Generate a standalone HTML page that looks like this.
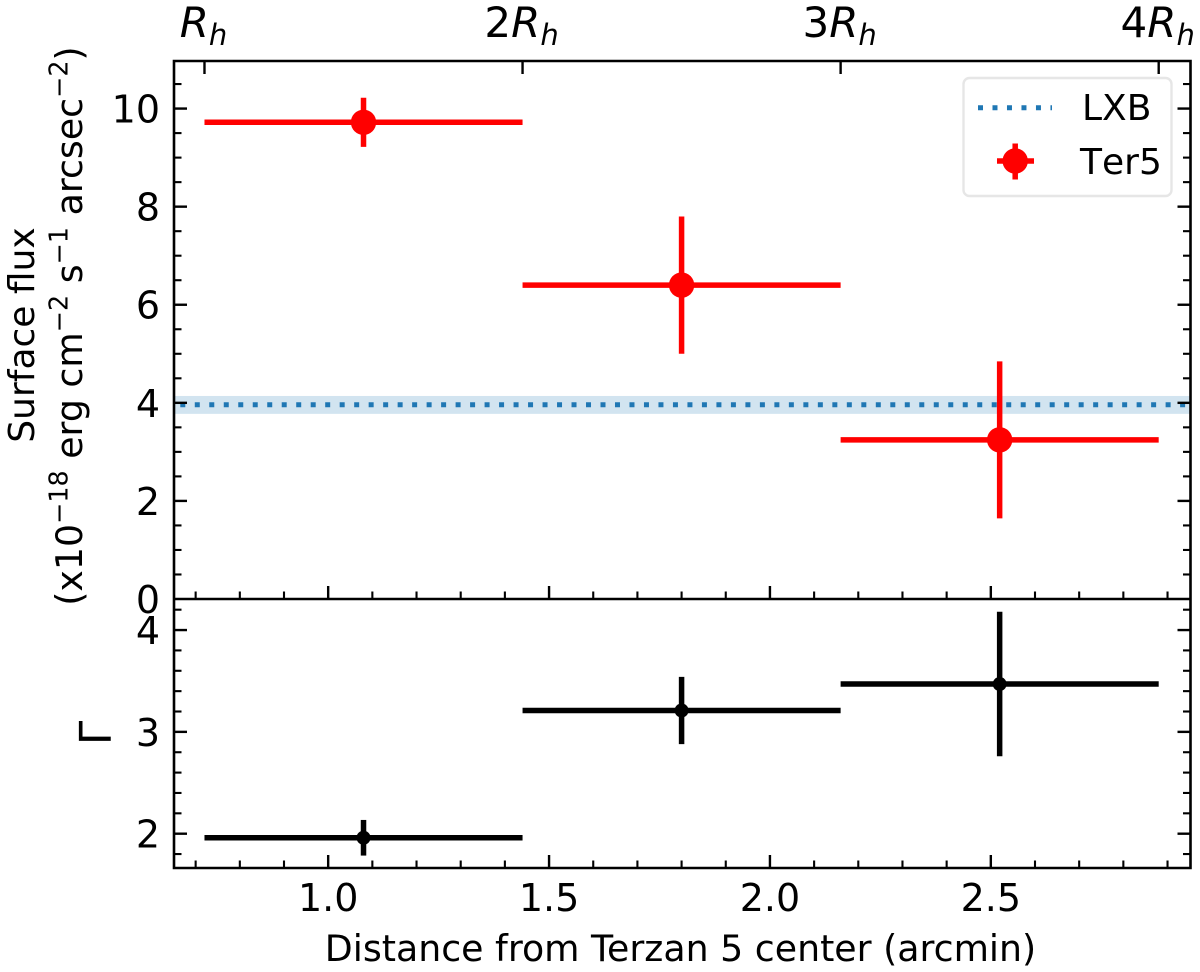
<!DOCTYPE html>
<html lang="en">
<head>
<meta charset="utf-8">
<title>Surface flux and photon index vs distance from Terzan 5 center</title>
<style>
  html, body { margin: 0; padding: 0; background: #fff; }
  #chart { display: block; width: 1200px; height: 972px; }
  text { font-family: "DejaVu Sans", "Liberation Sans", sans-serif; fill: #000; }
</style>
</head>
<body>
<svg id="chart" xmlns="http://www.w3.org/2000/svg" width="1200" height="972" viewBox="0 0 1200 972">
  <g id="series-layer"></g>
  <g id="axes-layer"></g>
  <g id="labels-layer">
    <text x="680.5" y="961" text-anchor="middle" font-size="36.3">Distance from Terzan 5 center (arcmin)</text>
    <text transform="translate(34 335) rotate(-90)" text-anchor="middle" font-size="36">Surface flux</text>
    <text transform="translate(82 326) rotate(-90)" text-anchor="middle" font-size="36.3">(x10<tspan dy="-14.5" font-size="25.4">−18</tspan><tspan dy="14.5"> erg cm</tspan><tspan dy="-14.5" font-size="25.4">−2</tspan><tspan dy="14.5"> s</tspan><tspan dy="-14.5" font-size="25.4">−1</tspan><tspan dy="14.5"> arcsec</tspan><tspan dy="-14.5" font-size="25.4">−2</tspan><tspan dy="14.5">)</tspan></text>
    <text transform="translate(111 733) rotate(-90)" text-anchor="middle" font-size="44">Γ</text>
  </g>
  <g id="legend">
    <rect x="963.5" y="78" width="208" height="118" rx="6" ry="6" fill="#fff" stroke="#e6e6e6" stroke-width="2.4"></rect>
    <line x1="978" y1="107.7" x2="1052" y2="107.7" stroke="#1f77b4" stroke-width="5" stroke-dasharray="5 9.49"></line>
    <text x="1082" y="120" font-size="36" style="font-kerning:none">LXB</text>
    <g>
      <line x1="997" y1="161" x2="1034" y2="161" stroke="#f00" stroke-width="5.5"></line>
      <line x1="1015.2" y1="143.5" x2="1015.2" y2="179.5" stroke="#f00" stroke-width="5.5"></line>
      <circle cx="1015.2" cy="161" r="12.7" fill="#f00"></circle>
    </g>
    <text x="1080" y="174" font-size="36" style="font-kerning:none">Ter5</text>
  </g>
</svg>
<script>
// Data
const binCenters = [1.08, 1.80, 2.52];
const binHalfWidths = [0.36, 0.36, 0.36];
const fluxValues = [9.72, 6.40, 3.245];
const fluxErrors = [0.50, 1.40, 1.60];
const gammaValues = [1.96, 3.21, 3.47];
const gammaErrors = [0.175, 0.33, 0.71];
const lxbLevel = [3.96];
const lxbBand = [3.775, 4.14];
const xMajorTicks = [1.0, 1.5, 2.0, 2.5];
const xMajorLabels = ['1.0', '1.5', '2.0', '2.5'];
const xMinorTicks = [0.7, 0.8, 0.9, 1.1, 1.2, 1.3, 1.4, 1.6, 1.7, 1.8, 1.9, 2.1, 2.2, 2.3, 2.4, 2.6, 2.7, 2.8, 2.9];
const fluxMajorTicks = [0, 2, 4, 6, 8, 10];
const fluxMinorTicks = [0.5, 1, 1.5, 2.5, 3, 3.5, 4.5, 5, 5.5, 6.5, 7, 7.5, 8.5, 9, 9.5, 10.5];
const gammaMajorTicks = [2, 3, 4];
const gammaMinorTicks = [1.8, 2.2, 2.4, 2.6, 2.8, 3.2, 3.4, 3.6, 3.8, 4.2];
const halfLightTicks = [0.72, 1.44, 2.16, 2.88];
const halfLightPrefixes = ['', '2', '3', '4'];

// Axis functions
const plotLeft = 174, plotRight = 1190.5, plotTop = 61, plotMid = 599, plotBottom = 868;
const xMin = 0.651, xMax = 2.952;
const fluxMin = 0, fluxMax = 10.97;
const gammaMin = 1.663, gammaMax = 4.305;
function xScale(v) { return plotLeft + (v - xMin) / (xMax - xMin) * (plotRight - plotLeft); }
function fluxScale(v) { return plotMid - (v - fluxMin) / (fluxMax - fluxMin) * (plotMid - plotTop); }
function gammaScale(v) { return plotBottom - (v - gammaMin) / (gammaMax - gammaMin) * (plotBottom - plotMid); }

const NS = 'http://www.w3.org/2000/svg';
const seriesLayer = document.getElementById('series-layer');
const axesLayer = document.getElementById('axes-layer');

function makeLine(parent, x1, y1, x2, y2, color, width) {
  const el = document.createElementNS(NS, 'line');
  el.setAttribute('x1', x1);
  el.setAttribute('y1', y1);
  el.setAttribute('x2', x2);
  el.setAttribute('y2', y2);
  el.setAttribute('stroke', color);
  el.setAttribute('stroke-width', width);
  parent.appendChild(el);
  return el;
}

// LXB band and level
const band = document.createElementNS(NS, 'rect');
band.setAttribute('x', plotLeft);
band.setAttribute('width', plotRight - plotLeft);
band.setAttribute('y', fluxScale(lxbBand[1]));
band.setAttribute('height', fluxScale(lxbBand[0]) - fluxScale(lxbBand[1]));
band.setAttribute('fill', '#1f77b4');
band.setAttribute('fill-opacity', '0.2');


seriesLayer.appendChild(band);

const lxbLine = makeLine(seriesLayer, plotLeft, fluxScale(lxbLevel[0]), plotRight, fluxScale(lxbLevel[0]), '#1f77b4', 5);
lxbLine.setAttribute('stroke-dasharray', '5 9.49');
lxbLine.setAttribute('stroke-dashoffset', '8.2');



// Error bar series
function drawSeries(values, errors, yScale, color, radius, seriesName) {
  values.forEach(function (v, i) {
    const g = document.createElementNS(NS, 'g');
    
    
    seriesLayer.appendChild(g);
    const cx = xScale(binCenters[i]);
    const cy = yScale(v);
    makeLine(g, xScale(binCenters[i] - binHalfWidths[i]), cy, xScale(binCenters[i] + binHalfWidths[i]), cy, color, 5.5);
    makeLine(g, cx, yScale(v + errors[i]), cx, yScale(v - errors[i]), color, 5.5);
    const dot = document.createElementNS(NS, 'circle');
    dot.setAttribute('cx', cx);
    dot.setAttribute('cy', cy);
    dot.setAttribute('r', radius);
    dot.setAttribute('fill', color);
    g.appendChild(dot);
  });
}
drawSeries(fluxValues, fluxErrors, fluxScale, '#ff0000', 12.7, 'ter5-flux');
drawSeries(gammaValues, gammaErrors, gammaScale, '#000000', 7, 'gamma');

// Ticks
const majorLen = 13, minorLen = 7.5, majorW = 2.4, minorW = 2.1;
function tickGroup(name) {
  const g = document.createElementNS(NS, 'g');
  
  
  axesLayer.appendChild(g);
  return g;
}
const xTicksGroup = tickGroup('x-axis-ticks');
xMajorTicks.forEach(function (v) {
  makeLine(xTicksGroup, xScale(v), plotMid, xScale(v), plotMid - majorLen, '#000', majorW);
  makeLine(xTicksGroup, xScale(v), plotBottom, xScale(v), plotBottom - majorLen, '#000', majorW);
});
xMinorTicks.forEach(function (v) {
  makeLine(xTicksGroup, xScale(v), plotMid, xScale(v), plotMid - minorLen, '#000', minorW);
  makeLine(xTicksGroup, xScale(v), plotBottom, xScale(v), plotBottom - minorLen, '#000', minorW);
});
const topTicksGroup = tickGroup('top-axis-ticks');
halfLightTicks.forEach(function (v) {
  makeLine(topTicksGroup, xScale(v), plotTop, xScale(v), plotTop + majorLen, '#000', majorW);
});
function drawYTicks(name, majors, minors, yScale) {
  const g = tickGroup(name);
  majors.forEach(function (v) {
    makeLine(g, plotLeft, yScale(v), plotLeft + majorLen, yScale(v), '#000', majorW);
    makeLine(g, plotRight, yScale(v), plotRight - majorLen, yScale(v), '#000', majorW);
  });
  minors.forEach(function (v) {
    makeLine(g, plotLeft, yScale(v), plotLeft + minorLen, yScale(v), '#000', minorW);
    makeLine(g, plotRight, yScale(v), plotRight - minorLen, yScale(v), '#000', minorW);
  });
}
drawYTicks('flux-y-ticks', fluxMajorTicks.filter(function (v) { return v > 0; }), fluxMinorTicks, fluxScale);
drawYTicks('gamma-y-ticks', gammaMajorTicks, gammaMinorTicks, gammaScale);

// Spines
const spines = document.createElementNS(NS, 'path');
spines.setAttribute('d', 'M' + plotLeft + ' ' + plotTop + 'H' + plotRight + 'V' + plotBottom + 'H' + plotLeft + 'ZM' + plotLeft + ' ' + plotMid + 'H' + plotRight);
spines.setAttribute('fill', 'none');
spines.setAttribute('stroke', '#000');
spines.setAttribute('stroke-width', '2.6');


axesLayer.appendChild(spines);

// Tick labels
function makeText(x, y, str, anchor, size) {
  const t = document.createElementNS(NS, 'text');
  t.setAttribute('x', x);
  t.setAttribute('y', y);
  t.setAttribute('font-size', size);
  t.setAttribute('text-anchor', anchor);
  t.textContent = str;
  axesLayer.appendChild(t);
  return t;
}
xMajorTicks.forEach(function (v, i) {
  const t = makeText(xScale(v), 911, xMajorLabels[i], 'middle', 38);
  
  
});
fluxMajorTicks.forEach(function (v) {
  const t = makeText(160, fluxScale(v) + 14, String(v), 'end', 38);
  
  
});
gammaMajorTicks.forEach(function (v) {
  const t = makeText(160, gammaScale(v) + 14, String(v), 'end', 38);
  
  
});
halfLightTicks.forEach(function (v, i) {
  const t = makeText(xScale(v) - 1, 37, halfLightPrefixes[i], 'middle', 42);
  
  
  const r = document.createElementNS(NS, 'tspan');
  r.setAttribute('font-style', 'italic');
  r.textContent = 'R';
  t.appendChild(r);
  const h = document.createElementNS(NS, 'tspan');
  h.setAttribute('font-style', 'italic');
  h.setAttribute('font-size', '29');
  h.setAttribute('dy', '8');
  h.textContent = 'h';
  t.appendChild(h);
});
</script>
</body>
</html>
